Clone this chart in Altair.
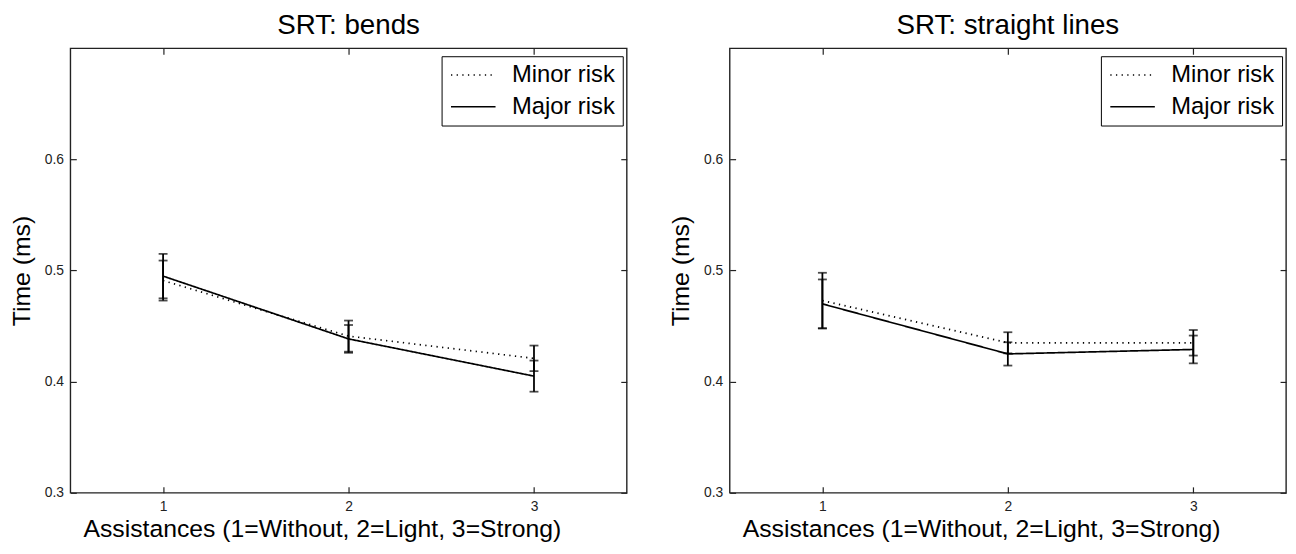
import altair as alt
import pandas as pd

# ---- data ----
assist = [1, 2, 3]
series = ["Minor risk", "Major risk"]

bends_minor_mean = [0.491, 0.441, 0.421]
bends_minor_err = [0.018, 0.014, 0.0115]
bends_major_mean = [0.495, 0.4385, 0.405]
bends_major_err = [0.020, 0.0125, 0.014]

straight_minor_mean = [0.473, 0.435, 0.435]
straight_minor_err = [0.025, 0.0095, 0.0115]
straight_major_mean = [0.470, 0.425, 0.429]
straight_major_err = [0.022, 0.0105, 0.0125]

y_ticks = [0.3, 0.4, 0.5, 0.6]
x_ticks = [1, 2, 3]
titles = ["SRT: bends", "SRT: straight lines"]
x_title = "Assistances (1=Without, 2=Light, 3=Strong)"
y_title = "Time (ms)"

FONT = "Liberation Sans"
W, H = 562, 449


def make_df(minor_mean, minor_err, major_mean, major_err):
    rows = []
    for name, means, errs in [("Minor risk", minor_mean, minor_err),
                              ("Major risk", major_mean, major_err)]:
        for x, m, e in zip(assist, means, errs):
            rows.append({"x": x, "mean": m, "lo": m - e, "hi": m + e, "risk": name})
    return pd.DataFrame(rows)


xs = alt.Scale(domain=[0.5, 3.5], nice=False, zero=False)
ys = alt.Scale(domain=[0.3, 0.7], nice=False, zero=False)


def tick_axis(orient, offset, values):
    return alt.Axis(orient=orient, offset=offset, labels=False, domain=False,
                    ticks=True, tickSize=6, tickWidth=1.2, tickColor="#222222",
                    values=values, title=None, grid=False)


def panel(df, title):
    base = alt.Chart(df)
    dash = alt.StrokeDash(
        "risk:N",
        sort=series,
        scale=alt.Scale(domain=series, range=[[1.3, 4.4], [1, 0]]),
        legend=alt.Legend(
            orient="none", legendX=W - 187, legendY=8, title=None,
            labelFont=FONT, labelFontSize=24, labelColor="black",
            labelOffset=27,
            symbolType="M-2,0H2", symbolSize=506, symbolOffset=13,
            symbolStrokeWidth=1.4, symbolStrokeColor="black",
            strokeColor="black", fillColor="white",
            padding=7, rowPadding=8, cornerRadius=0,
        ),
    )
    lines = base.mark_line(color="black", strokeWidth=1.7).encode(
        x=alt.X("x:Q", scale=xs, axis=alt.Axis(
            orient="bottom", values=x_ticks, format="d", ticks=False, domain=False,
            grid=False, labelFont=FONT, labelFontSize=14, labelColor="#222222",
            labelPadding=7, title=x_title, titleFont=FONT, titleFontSize=25,
            titleFontWeight="normal", titleColor="black", titlePadding=3,
            titleX=254, titleAlign="center")),
        y=alt.Y("mean:Q", scale=ys, axis=alt.Axis(
            orient="left", values=y_ticks, format=".1f", ticks=False, domain=False,
            grid=False, labelFont=FONT, labelFontSize=14, labelColor="#222222",
            labelPadding=7, title=y_title, titleFont=FONT, titleFontSize=25,
            titleFontWeight="normal", titleColor="black", titlePadding=10)),
        strokeDash=dash,
    )
    bars = base.mark_rule(color="black", strokeWidth=1.8).encode(
        x=alt.X("x:Q", scale=xs, axis=None),
        y=alt.Y("lo:Q", scale=ys, axis=None),
        y2="hi:Q",
    )
    cap_lo = base.mark_tick(color="black", orient="horizontal", size=9, thickness=1.8).encode(
        x=alt.X("x:Q", scale=xs, axis=None),
        y=alt.Y("lo:Q", scale=ys, axis=None),
    )
    cap_hi = base.mark_tick(color="black", orient="horizontal", size=9, thickness=1.8).encode(
        x=alt.X("x:Q", scale=xs, axis=None),
        y=alt.Y("hi:Q", scale=ys, axis=None),
    )
    # inward ticks on all four sides (box style)
    ticks_a = base.mark_point(opacity=0).encode(
        x=alt.X("x:Q", scale=xs, axis=tick_axis("top", -H, x_ticks)),
        y=alt.Y("mean:Q", scale=ys, axis=tick_axis("right", -W, y_ticks)),
    )
    ticks_b = base.mark_point(opacity=0).encode(
        x=alt.X("x:Q", scale=xs, axis=tick_axis("bottom", -H, x_ticks)),
        y=alt.Y("mean:Q", scale=ys, axis=tick_axis("left", -W, y_ticks)),
    )
    return alt.layer(ticks_a, ticks_b, bars, cap_lo, cap_hi, lines).resolve_axis(
        x="independent", y="independent"
    ).properties(
        width=W, height=H,
        title=alt.Title(title, font=FONT, fontSize=28, fontWeight="normal",
                        color="black", offset=8, anchor="middle"),
    )


left = panel(make_df(bends_minor_mean, bends_minor_err, bends_major_mean, bends_major_err), titles[0])
right = panel(make_df(straight_minor_mean, straight_minor_err, straight_major_mean, straight_major_err), titles[1])

chart = alt.hconcat(left, right, spacing=39).resolve_scale(
    strokeDash="independent"
).resolve_legend(strokeDash="independent").properties(
    padding=0, background="white"
).configure_view(stroke="#222222", strokeWidth=1.4)

chart.save("out.html", embed_options={"renderer": "svg", "actions": False})
